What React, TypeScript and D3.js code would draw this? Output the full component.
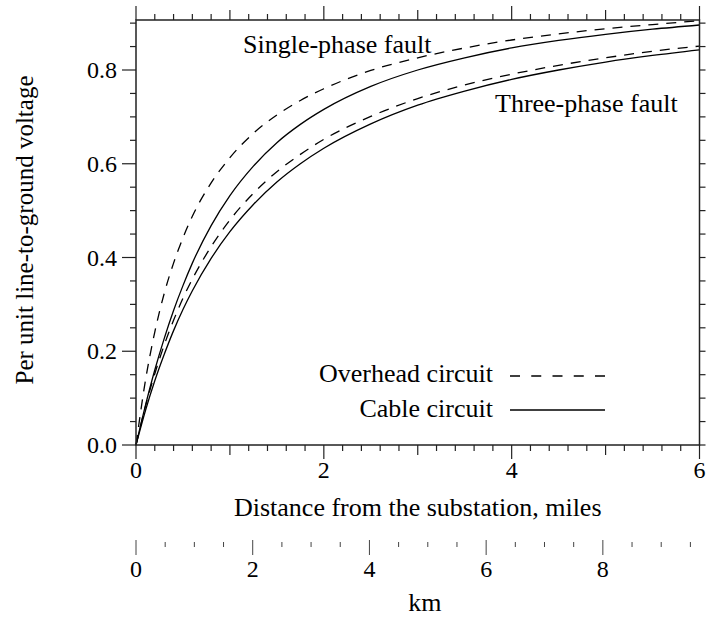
import React from 'react';
import * as d3 from 'd3';

// Distance from the substation (miles) at which the curves were read
const distanceMiles = [0, 0.1, 0.2, 0.3, 0.4, 0.5, 0.6, 0.8, 1, 1.25, 1.5, 1.75, 2, 2.5, 3, 3.5, 4, 4.5, 5, 5.5, 6];
// Per unit line-to-ground voltage
const singleOverhead = [0, 0.137, 0.241, 0.323, 0.388, 0.442, 0.488, 0.559, 0.613, 0.665, 0.704, 0.735, 0.76, 0.799, 0.826, 0.847, 0.864, 0.877, 0.888, 0.897, 0.905];
const singleCable = [0, 0.084, 0.16, 0.227, 0.287, 0.34, 0.388, 0.468, 0.532, 0.595, 0.645, 0.684, 0.716, 0.765, 0.8, 0.826, 0.847, 0.863, 0.876, 0.887, 0.896];
const threeOverhead = [0, 0.082, 0.152, 0.213, 0.266, 0.313, 0.354, 0.423, 0.48, 0.537, 0.583, 0.62, 0.652, 0.701, 0.739, 0.768, 0.791, 0.81, 0.826, 0.84, 0.851];
const threeCable = [0, 0.073, 0.137, 0.193, 0.244, 0.289, 0.329, 0.398, 0.455, 0.513, 0.561, 0.6, 0.633, 0.685, 0.725, 0.755, 0.78, 0.8, 0.817, 0.831, 0.843];

const yTickLabels = [0, 0.2, 0.4, 0.6, 0.8];
const xTickLabels = [0, 2, 4, 6];
const kmTickLabels = [0, 2, 4, 6, 8];
const KM_PER_MILE = 1.609344;

const FONT = '"Liberation Serif", "Times New Roman", serif';

export default function App() {
  const W = 706, H = 617;
  const L = 136, R = 699.5, T = 20, B = 445;
  const x = d3.scaleLinear().domain([0, 6]).range([L, R]);
  const y = d3.scaleLinear().domain([0, 0.8]).range([B, B - 375]);
  const yTop = y.invert(T);
  const km = d3.scaleLinear().domain([0, 6 * KM_PER_MILE]).range([L, R]);

  const line = d3.line<number>()
    .x((_, i) => x(distanceMiles[i]))
    .y((d) => y(d))
    .curve(d3.curveMonotoneX);

  const series = [
    { v: singleOverhead, dash: '10,8' },
    { v: singleCable, dash: null },
    { v: threeOverhead, dash: '10,8' },
    { v: threeCable, dash: null },
  ];

  const yMinor = d3.range(0, yTop + 1e-9, 0.05);
  const xMinor = d3.range(0, 6 + 1e-9, 0.2);
  const kmMinor = d3.range(0, 9.5 + 1e-9, 0.5);

  const tickStroke = '#222';

  return (
    <svg width={W} height={H} style={{ position: 'absolute', left: 0, top: 0, background: '#fff' }} fontFamily={FONT}>
      {/* curves */}
      {series.map((s, i) => (
        <path key={i} d={line(s.v) || ''} fill="none" stroke="#000" strokeWidth={1.3}
          strokeDasharray={s.dash || undefined} />
      ))}

      {/* frame */}
      <rect x={L} y={T} width={R - L} height={B - T} fill="none" stroke={tickStroke} strokeWidth={1.5} />

      {/* left & right ticks */}
      {yMinor.map((v, i) => {
        const major = Math.abs(v / 0.2 - Math.round(v / 0.2)) < 1e-6;
        return (
          <g key={'y' + i}>
            <line x1={L} x2={L - (major ? 14 : 6)} y1={y(v)} y2={y(v)} stroke={tickStroke} strokeWidth={1.2} />
            <line x1={R} x2={R + 6} y1={y(v)} y2={y(v)} stroke={tickStroke} strokeWidth={1.2} />
          </g>
        );
      })}
      {yTickLabels.map((v) => (
        <text key={'yl' + v} x={117} y={y(v) + 8} textAnchor="end" fontSize={24} fill="#000">{v.toFixed(1)}</text>
      ))}

      {/* top & bottom ticks */}
      {xMinor.map((v, i) => {
        const r = Math.round(v);
        const isInt = Math.abs(v - r) < 1e-6;
        const len = isInt ? (r % 2 === 0 ? 14 : 10) : 6;
        return (
          <g key={'x' + i}>
            <line x1={x(v)} x2={x(v)} y1={B} y2={B + len} stroke={tickStroke} strokeWidth={1.2} />
            <line x1={x(v)} x2={x(v)} y1={T} y2={T - len} stroke={tickStroke} strokeWidth={1.2} />
          </g>
        );
      })}
      {xTickLabels.map((v) => (
        <text key={'xl' + v} x={x(v)} y={478} textAnchor="middle" fontSize={24} fill="#000">{v}</text>
      ))}
      <text x={(L + R) / 2} y={516} textAnchor="middle" fontSize={26} fill="#000">Distance from the substation, miles</text>

      {/* km scale */}
      {kmMinor.map((v, i) => {
        const major = Math.abs(v / 2 - Math.round(v / 2)) < 1e-6;
        return (
          <line key={'k' + i} x1={km(v)} x2={km(v)} y1={major ? 540 : 542} y2={major ? 555 : 547}
            stroke="#444" strokeWidth={1} />
        );
      })}
      {kmTickLabels.map((v) => (
        <text key={'kl' + v} x={km(v)} y={577} textAnchor="middle" fontSize={24} fill="#000">{v}</text>
      ))}
      <text x={km(4.95)} y={611} textAnchor="middle" fontSize={26} fill="#000">km</text>

      {/* y title */}
      <text transform={`translate(33,230) rotate(-90)`} textAnchor="middle" fontSize={25} fill="#000">
        Per unit line-to-ground voltage
      </text>

      {/* annotations */}
      <text x={243} y={53} fontSize={26} fill="#000">Single-phase fault</text>
      <text x={495} y={112} fontSize={26} fill="#000">Three-phase fault</text>

      {/* legend */}
      <text x={493} y={382} textAnchor="end" fontSize={26} fill="#000">Overhead circuit</text>
      <line x1={510} x2={605} y1={376} y2={376} stroke="#000" strokeWidth={1.3} strokeDasharray="10,11.25" />
      <text x={493} y={417} textAnchor="end" fontSize={26} fill="#000">Cable circuit</text>
      <line x1={510} x2={605} y1={410} y2={410} stroke="#000" strokeWidth={1.3} />
    </svg>
  );
}
